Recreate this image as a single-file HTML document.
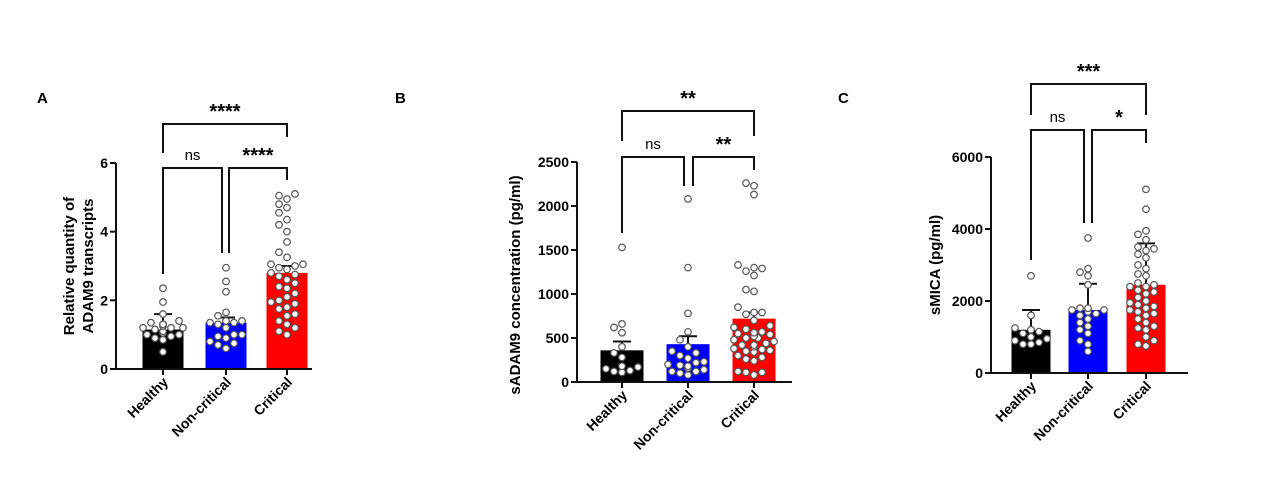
<!DOCTYPE html>
<html><head><meta charset="utf-8"><style>
html,body{margin:0;padding:0;background:#fff;}
svg{display:block;font-family:"Liberation Sans",Arial,sans-serif;}
</style></head><body>
<svg id="s" width="1265" height="483" viewBox="0 0 1265 483" xmlns="http://www.w3.org/2000/svg">
<rect width="1265" height="483" fill="#fff"/>
<text x="37" y="103" font-size="15" font-weight="bold">A</text>
<text x="395" y="103" font-size="15" font-weight="bold">B</text>
<text x="838" y="103" font-size="15" font-weight="bold">C</text>
</svg>
<script>
var S=document.getElementById('s'),NS='http://www.w3.org/2000/svg';
function el(t,a,txt){var e=document.createElementNS(NS,t);for(var k in a)e.setAttribute(k,a[k]);if(txt!==undefined)e.textContent=txt;S.appendChild(e);return e;}
function line(x1,y1,x2,y2,w){el('line',{x1:x1,y1:y1,x2:x2,y2:y2,stroke:'#111','stroke-width':w||2});}
function poly(p){el('polyline',{points:p,fill:'none',stroke:'#111','stroke-width':2});}
function panel(P){
 var sc=function(v){return P.y0-(v/P.max)*(P.y0-P.yTop);};
 var cols=['#000','#0000ff','#ff0000'];
 for(var i=0;i<3;i++){
  var cx=P.cx[i];
  el('rect',{x:cx-P.bw/2,y:sc(P.mean[i]),width:P.bw,height:P.y0-sc(P.mean[i]),fill:cols[i]});
 }
 for(var i=0;i<3;i++){
  var d=P.data[i],cx=P.cx[i];
  var sorted=d.slice().sort(function(a,b){return a-b;});
  var used=[];
  for(var j=0;j<sorted.length;j++){
   var y=sc(sorted[j]);
   var offs=[0,-8,8,-16,16,-4,4,-12,12,-20,20],x=cx;
   for(var o=0;o<offs.length;o++){
    var ok=true;
    for(var u=0;u<used.length;u++){var dx=used[u][0]-(cx+offs[o]),dy=used[u][1]-y;if(dx*dx+dy*dy<50){ok=false;break;}}
    if(ok){x=cx+offs[o];break;}
   }
   used.push([x,y]);
  }
  line(cx,sc(P.mean[i]),cx,sc(P.err[i]),2);
  line(cx-9,sc(P.err[i]),cx+9,sc(P.err[i]),2);
  used.forEach(function(p){el('circle',{cx:p[0],cy:p[1],r:3.3,fill:'#fff',stroke:'#555','stroke-width':1.2});});
 }
 line(P.ax,P.yTop,P.ax,P.y0+1,2);
 line(P.ax-1,P.y0,P.axEnd,P.y0,2);
 P.ticks.forEach(function(t){var y=sc(t);line(P.ax-6,y,P.ax,y,2);
  el('text',{x:P.ax-8,y:y+5,'font-size':14,'font-weight':'bold','text-anchor':'end'},String(t));});
 var names=['Healthy','Non-critical','Critical'];
 for(var i=0;i<3;i++){line(P.cx[i],P.y0,P.cx[i],P.y0+6,2);
  var tx=P.cx[i]+6,ty=P.y0+14;
  el('text',{x:tx,y:ty,'font-size':14,'font-weight':'bold','text-anchor':'end',transform:'rotate(-45 '+tx+' '+ty+')'},names[i]);}
 P.ylab.forEach(function(l){el('text',{x:l[0],y:P.ylabY,'font-size':15,'font-weight':'bold','text-anchor':'middle',transform:'rotate(-90 '+l[0]+' '+P.ylabY+')'},l[1]);});
 var B=P.br;
 poly(P.cx[0]+','+B.t1L+' '+P.cx[0]+','+B.t+' '+P.cx[2]+','+B.t+' '+P.cx[2]+','+B.t1R);
 poly(P.cx[0]+','+B.s1L+' '+P.cx[0]+','+B.s+' '+B.mL+','+B.s+' '+B.mL+','+B.s1R);
 poly(B.mR+','+B.s1R+' '+B.mR+','+B.s+' '+P.cx[2]+','+B.s+' '+P.cx[2]+','+B.s2R);
 el('text',{x:(P.cx[0]+P.cx[2])/2,y:B.t-6,'font-size':20,'font-weight':'bold','text-anchor':'middle'},B.top);
 el('text',{x:(P.cx[0]+B.mL)/2,y:B.s-8,'font-size':15,'text-anchor':'middle'},'ns');
 el('text',{x:(B.mR+P.cx[2])/2,y:B.s-6,'font-size':20,'font-weight':'bold','text-anchor':'middle'},B.right);
}
panel({ax:116,axEnd:312,y0:369,yTop:163,max:6,ticks:[0,2,4,6],cx:[163,226,287],bw:41,
 mean:[1.15,1.35,2.8],err:[1.6,1.5,3.0],
 data:[[2.35,1.95,1.6,1.4,1.35,1.3,1.25,1.2,1.2,1.15,1.1,1.05,1.0,1.0,0.95,0.9,0.85,1.2,1.3,0.5],
  [2.95,2.55,2.25,1.65,1.55,1.4,1.35,1.35,1.3,1.2,1.0,0.95,0.9,0.8,0.75,0.7,0.6,1.4,1.0],
  [5.1,5.05,4.95,4.8,4.7,4.55,4.35,4.2,4.0,3.7,3.4,3.25,3.0,3.05,2.95,2.9,2.8,2.75,2.6,2.5,2.4,2.35,2.2,2.1,2.0,1.9,1.8,1.75,1.6,1.55,1.4,1.3,1.2,1.1,1.0,3.05,2.7,1.95]],
 ylab:[[74,'Relative quantity of'],[93,'ADAM9 transcripts']],ylabY:266,
 br:{t:124,t1L:153,t1R:137,s:168,s1L:274,mL:222,mR:229,s1R:253,s2R:180,top:'****',right:'****'}});
panel({ax:577,axEnd:792,y0:382,yTop:162,max:2500,ticks:[0,500,1000,1500,2000,2500],cx:[622,688,754],bw:43,
 mean:[360,430,720],err:[460,520,790],
 data:[[1530,660,620,560,400,330,280,180,170,150,130,120,110],
  [2080,1300,780,570,480,400,330,270,230,190,180,160,150,140,120,100,80,300,220,350,200,120],
  [2260,2230,2130,1330,1300,1260,1290,1210,1050,1030,850,790,770,790,700,640,620,600,570,550,540,520,500,480,460,440,420,400,380,370,360,350,340,300,280,260,240,120,110,110,80,420,500,560]],
 ylab:[[520,'sADAM9 concentration (pg/ml)']],ylabY:285,
 br:{t:111,t1L:141,t1R:136,s:157,s1L:233,mL:684,mR:693,s1R:186,s2R:170,top:'**',right:'**'}});
panel({ax:991,axEnd:1188,y0:373,yTop:157,max:6000,ticks:[0,2000,4000,6000],cx:[1031,1088,1146],bw:39,
 mean:[1200,1750,2450],err:[1750,2480,3600],
 data:[[2700,1600,1250,1200,1150,1100,1000,950,900,850,800,800],
  [3750,2900,2800,2700,2450,1800,1750,1800,1700,1600,1500,1400,1300,1200,1100,900,800,600,1750,1650],
  [5100,4550,3950,3850,3700,3500,3450,3400,3300,3200,3000,2900,2750,2700,2500,2450,2400,2400,2300,2200,2100,2000,1950,1900,1800,1750,1700,1650,1600,1500,1400,1300,1250,1200,1000,900,800,750,2250,1850]],
 ylab:[[940,'sMICA (pg/ml)']],ylabY:265,
 br:{t:84,t1L:115,t1R:115,s:130,s1L:260,mL:1084,mR:1092,s1R:223,s2R:143,top:'***',right:'*'}});
</script>
</body></html>
